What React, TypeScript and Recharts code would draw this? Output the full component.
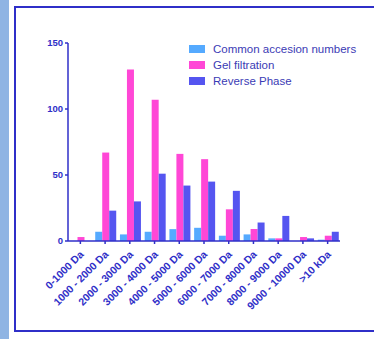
import { BarChart, Bar, XAxis, YAxis } from 'recharts';

const categories = [
  '0-1000 Da',
  '1000 - 2000 Da',
  '2000 - 3000 Da',
  '3000 - 4000 Da',
  '4000 - 5000 Da',
  '5000 - 6000 Da',
  '6000 - 7000 Da',
  '7000 - 8000 Da',
  '8000 - 9000 Da',
  '9000 - 10000 Da',
  '>10 kDa',
];

const commonAccession = [0, 7, 5, 7, 9, 10, 4, 5, 2, 0, 1];
const gelFiltration = [3, 67, 130, 107, 66, 62, 24, 9, 2, 3, 4];
const reversePhase = [0, 23, 30, 51, 42, 45, 38, 14, 19, 2, 7];

const yTicks = [0, 50, 100, 150];

const series = [
  { key: 'common', name: 'Common accesion numbers', color: '#55aaff', values: commonAccession },
  { key: 'gel', name: 'Gel filtration', color: '#ff47d6', values: gelFiltration },
  { key: 'reverse', name: 'Reverse Phase', color: '#5555f0', values: reversePhase },
];

const data = categories.map((cat, i) => {
  const row: { [k: string]: string | number } = { cat };
  series.forEach((s) => {
    row[s.key] = s.values[i];
  });
  return row;
});

const AXIS = '#2f2fc8';
const FONT = '"Liberation Sans", Arial, sans-serif';

// legend sits over the plot, so it is kept out of the chart's layout
function LegendBox() {
  return (
    <div
      style={{
        position: 'absolute',
        left: 189,
        top: 41,
        fontFamily: FONT,
        fontSize: 11.5,
        color: '#3b3bb5',
      }}
    >
      {series.map((s) => (
        <div key={s.key} style={{ display: 'flex', alignItems: 'center', height: 16 }}>
          <span style={{ width: 16, height: 8, background: s.color, marginRight: 8 }} />
          <span>{s.name}</span>
        </div>
      ))}
    </div>
  );
}

function XTick({ x, y, payload }: any) {
  const ax = x + 4;
  const ay = y + 9;
  return (
    <text
      x={ax}
      y={ay}
      textAnchor="end"
      transform={`rotate(-45, ${ax}, ${ay})`}
      fill={AXIS}
      fontSize={10.5}
      fontWeight="bold"
      fontFamily={FONT}
    >
      {payload.value}
    </text>
  );
}

export default function App() {
  return (
    <div style={{ position: 'absolute', left: 0, top: 0, width: 374, height: 339, background: '#fff' }}>
      <div style={{ position: 'absolute', left: 0, top: 0, width: 9, height: 339, background: '#8fb4e3' }} />
      <div
        style={{
          position: 'absolute',
          left: 14,
          top: 6,
          width: 370,
          height: 326,
          border: `2px solid ${AXIS}`,
          boxSizing: 'border-box',
        }}
      />
      <div style={{ position: 'absolute', left: 0, top: 0 }}>
        <BarChart
          width={374}
          height={339}
          data={data}
          margin={{ top: 43, right: 34, bottom: 0, left: 0 }}
          barCategoryGap={2.5}
          barGap={0}
        >
          <XAxis
            dataKey="cat"
            interval={0}
            height={98}
            stroke={AXIS}
            strokeWidth={1.5}
            tickSize={3}
            tick={<XTick />}
          />
          <YAxis
            width={68}
            domain={[0, 150]}
            ticks={yTicks}
            stroke={AXIS}
            strokeWidth={1.5}
            tickSize={3}
            tick={{ fill: AXIS, fontSize: 9.5, fontWeight: 'bold', fontFamily: FONT }}
          />
          {series.map((s) => (
            <Bar key={s.key} dataKey={s.key} name={s.name} fill={s.color} isAnimationActive={false} />
          ))}
        </BarChart>
      </div>
      <LegendBox />
    </div>
  );
}
